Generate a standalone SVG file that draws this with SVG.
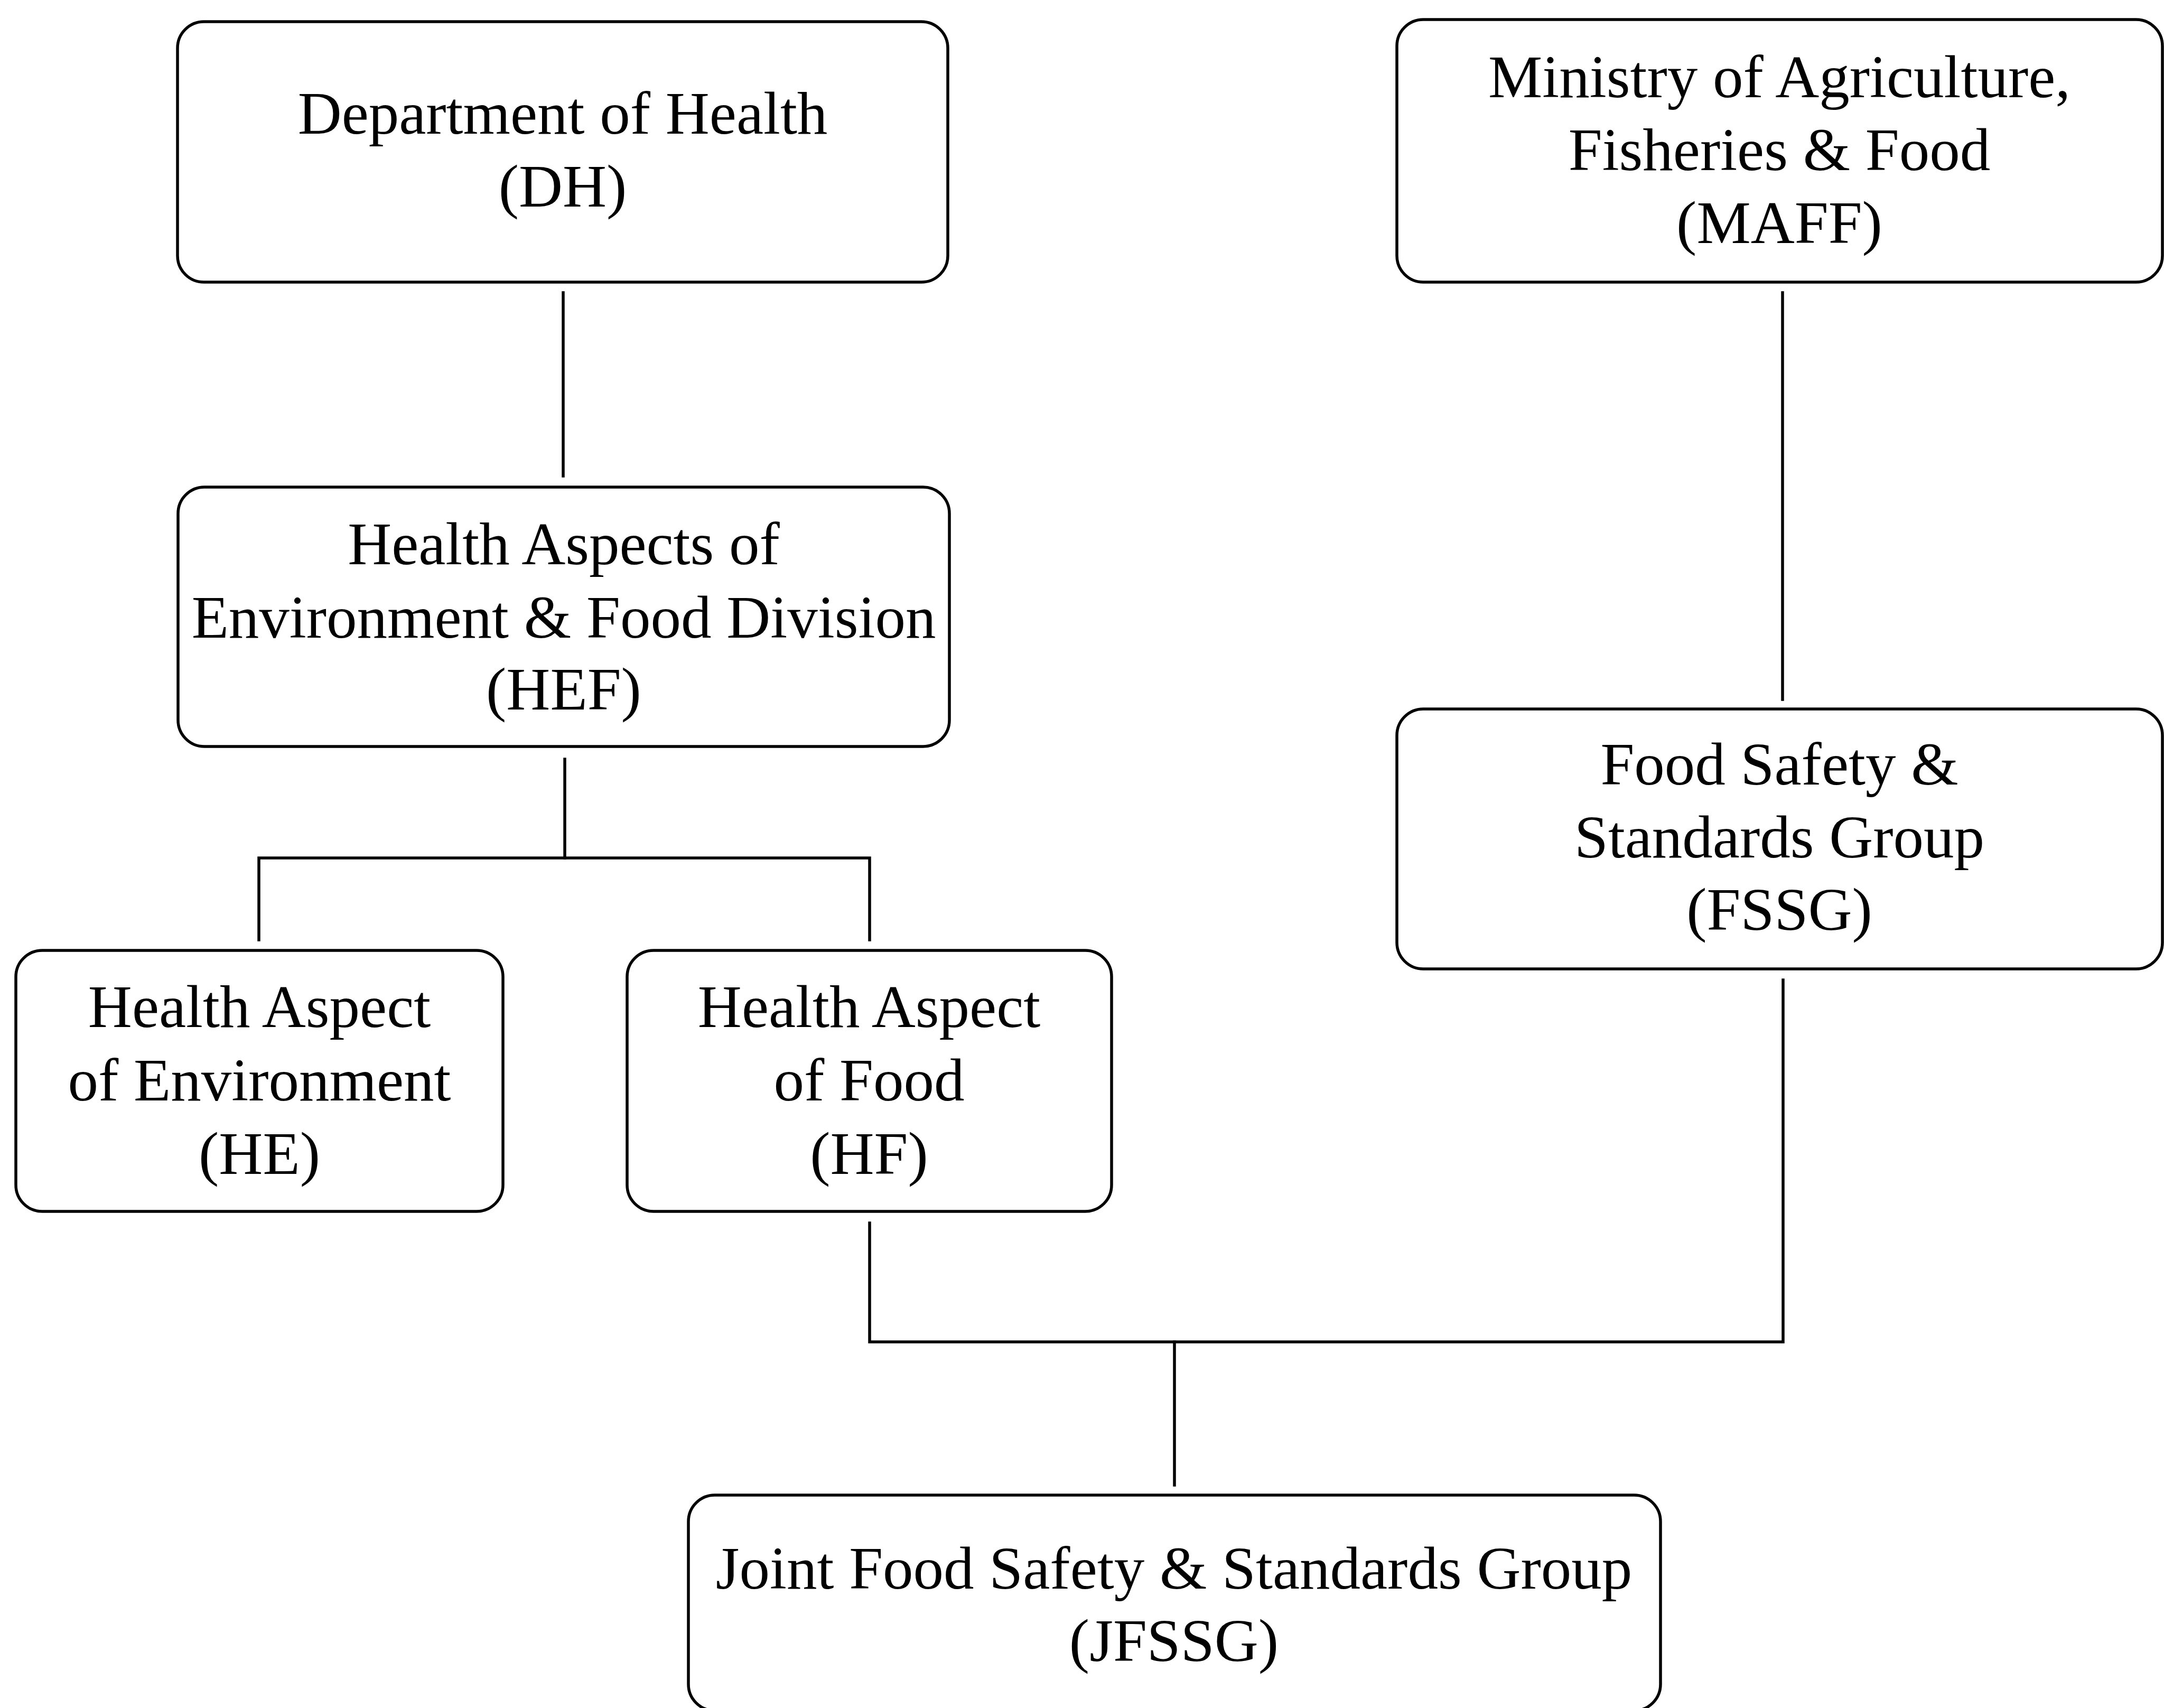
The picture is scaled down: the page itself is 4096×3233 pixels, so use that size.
<svg xmlns="http://www.w3.org/2000/svg" width="4096" height="3233" viewBox="0 0 4096 3233">
<style>
.box{fill:#fff;stroke:#000;stroke-width:5.5}
.lbl{font-family:"Liberation Serif","Times New Roman",serif;font-size:115px;fill:#000;text-anchor:middle}
.con{fill:none;stroke:#000;stroke-width:5.5;stroke-linecap:square}
</style>
<rect width="4096" height="3233" fill="#fff"/>
<g id="connectors">
<path class="con" d="M1066 554V901"/>
<path class="con" d="M3374 554V1324"/>
<path class="con" d="M1069 1437V1624"/>
<path class="con" d="M490 1779V1624H1646V1779"/>
<path class="con" d="M1646 2315V2540H3375V1855"/>
<path class="con" d="M2223 2540V2811"/>
</g>
<g id="DH">
<rect class="box" x="336" y="41" width="1458" height="493" rx="50"/>
<text class="lbl" x="1065" y="253">Department of Health</text>
<text class="lbl" x="1065" y="391">(DH)</text>
</g>
<g id="MAFF">
<rect class="box" x="2644" y="37" width="1449" height="497" rx="50"/>
<text class="lbl" x="3368" y="184">Ministry of Agriculture,</text>
<text class="lbl" x="3368" y="322">Fisheries &amp; Food</text>
<text class="lbl" x="3368" y="460">(MAFF)</text>
</g>
<g id="HEF">
<rect class="box" x="337" y="922" width="1460" height="491" rx="50"/>
<text class="lbl" x="1067" y="1068">Health Aspects of</text>
<text class="lbl" x="1067" y="1207">Environment &amp; Food Division</text>
<text class="lbl" x="1067" y="1343">(HEF)</text>
</g>
<g id="FSSG">
<rect class="box" x="2644" y="1342" width="1449" height="492" rx="50"/>
<text class="lbl" x="3368" y="1485">Food Safety &amp;</text>
<text class="lbl" x="3368" y="1623">Standards Group</text>
<text class="lbl" x="3368" y="1760">(FSSG)</text>
</g>
<g id="HE">
<rect class="box" x="30" y="1799" width="922" height="494" rx="50"/>
<text class="lbl" x="491" y="1944">Health Aspect</text>
<text class="lbl" x="491" y="2083">of Environment</text>
<text class="lbl" x="491" y="2222">(HE)</text>
</g>
<g id="HF">
<rect class="box" x="1187" y="1799" width="917" height="494" rx="50"/>
<text class="lbl" x="1645" y="1944">Health Aspect</text>
<text class="lbl" x="1645" y="2083">of Food</text>
<text class="lbl" x="1645" y="2222">(HF)</text>
</g>
<g id="JFSSG">
<rect class="box" x="1303" y="2830" width="1840" height="408" rx="50"/>
<text class="lbl" x="2222" y="3007">Joint Food Safety &amp; Standards Group</text>
<text class="lbl" x="2222" y="3144">(JFSSG)</text>
</g>
</svg>
